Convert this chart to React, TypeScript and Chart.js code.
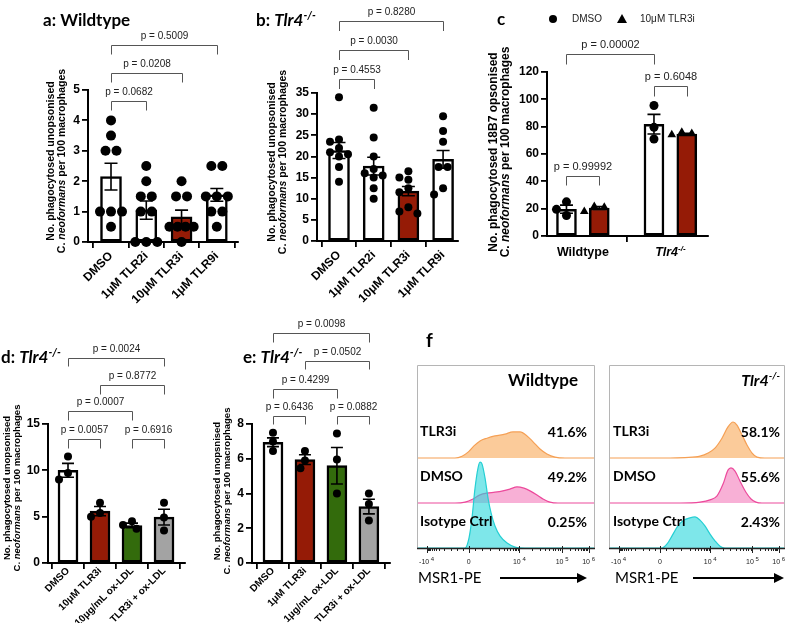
import React, { useEffect, useRef } from 'react';
import { Chart, registerables } from 'chart.js';

Chart.register(...registerables);

const W = 788;
const H = 635;
const SANS = '"Liberation Sans", Arial, sans-serif';
const LATO = 'Lato, "Open Sans", sans-serif';
const RED = '#951b06';
const GREEN = '#336b0c';
const GREY = '#a3a3a3';
const WHITE = '#ffffff';

// ---------------- data: panel a (Wildtype) ----------------
const aCategories = ['DMSO', '1μM TLR2i', '10μM TLR3i', '1μM TLR9i'];
const aMeans = [2.15, 1.05, 0.83, 1.55];
const aSems = [0.44, 0.3, 0.22, 0.21];
const aPoints = [
  [4, 3.5, 3, 3, 1, 1, 1, 0.5],
  [2.5, 2, 1.5, 1.5, 1, 1, 0, 0, 0],
  [2, 1.5, 1.5, 0.5, 0.5, 0.5, 0.5, 0],
  [2.5, 2.5, 1.5, 1.5, 1.5, 1, 1, 0.5],
];
const aPValues = ['p = 0.0682', 'p = 0.0208', 'p = 0.5009'];

// ---------------- data: panel b (Tlr4-/-) ----------------
const bCategories = ['DMSO', '1μM TLR2i', '10μM TLR3i', '1μM TLR9i'];
const bMeans = [21.4, 17.7, 11.8, 19.3];
const bSems = [1.9, 2.1, 1.1, 2.1];
const bPoints = [
  [34, 24, 23.5, 22, 21, 20.5, 20, 17.5, 14],
  [31.5, 24.5, 20, 17, 16, 15.5, 15, 12.5, 10],
  [16.5, 15, 14.5, 12.5, 11.5, 8, 7, 6.5],
  [29.5, 26, 23.5, 17.5, 17.5, 12.5, 11],
];
const bPValues = ['p = 0.4553', 'p = 0.0030', 'p = 0.8280'];

// ---------------- data: panel c (18B7 opsonised) ----------------
const cGroups = ['Wildtype', 'Tlr4'];
const cSeries = ['DMSO', '10μM TLR3i'];
const cDmsoMeans = [19.6, 81.8];
const cDmsoSems = [3.0, 7.2];
const cTlr3iMeans = [20.5, 74.6];
const cTlr3iSems = [1.0, 0.6];
const cDmsoPoints = [[25, 19.5, 15], [95.5, 79.5, 71]];
const cTlr3iPoints = [[21.5, 21, 18], [76, 75, 74]];
const cPValues = ['p = 0.99992', 'p = 0.6048', 'p = 0.00002'];

// ---------------- data: panel d ----------------
const dCategories = ['DMSO', '10μM TLR3i', '10μg/mL ox-LDL', 'TLR3i + ox-LDL'];
const dMeans = [10.0, 5.6, 4.05, 4.95];
const dSems = [0.75, 0.5, 0.25, 0.85];
const dPoints = [[11.5, 9.7, 9.0], [6.5, 5.4, 5.0], [4.5, 4.1, 3.7], [6.5, 4.9, 3.5]];
const dPValues = ['p = 0.0057', 'p = 0.6916', 'p = 0.0007', 'p = 0.8772', 'p = 0.0024'];

// ---------------- data: panel e ----------------
const eCategories = ['DMSO', '1μM TLR3i', '1μg/mL ox-LDL', 'TLR3i + ox-LDL'];
const eMeans = [6.95, 5.95, 5.6, 3.25];
const eSems = [0.25, 0.28, 1.05, 0.42];
const ePoints = [[7.5, 7.0, 6.45], [6.45, 5.9, 5.45], [7.45, 5.95, 4.0], [4.0, 3.4, 2.45]];
const ePValues = ['p = 0.6436', 'p = 0.0882', 'p = 0.4299', 'p = 0.0502', 'p = 0.0098'];

// ---------------- data: panel f (flow histograms, axis display units 0-100, height in row units) ----------------
const fRows = ['TLR3i', 'DMSO', 'Isotype Ctrl'];
const fWtPercent = ['41.6%', '49.2%', '0.25%'];
const fKoPercent = ['58.1%', '55.6%', '2.43%'];
const fTickPos = [5.4, 29, 57.5, 81.5, 96.4];
const fTickMain = ['-10', '0', '10', '10', '10'];
const fTickExp = ['4', '', '4', '5', '6'];
const fWtTlr3i = [[21.3, 0], [25.3, 0.04], [28.7, 0.13], [32, 0.27], [35.4, 0.38], [39.3, 0.44], [43.8, 0.49], [49.4, 0.53], [53.9, 0.58], [57.9, 0.58], [61.8, 0.49], [65.2, 0.36], [69.1, 0.2], [73, 0.09], [77.5, 0.02], [83.1, 0]];
const fWtDmso = [[21.3, 0], [27, 0.02], [31.5, 0.09], [35.4, 0.18], [39.3, 0.22], [43.8, 0.24], [48.3, 0.27], [52.2, 0.31], [56.2, 0.36], [60.1, 0.33], [63.5, 0.27], [67.4, 0.18], [70.8, 0.09], [74.7, 0.02], [79.2, 0]];
const fWtIso = [[27, 0], [29.2, 0.22], [30.9, 0.67], [32.6, 1.33], [34.3, 1.78], [35.4, 1.91], [36.5, 1.87], [38.2, 1.56], [39.9, 1.11], [41.6, 0.78], [43.8, 0.49], [46.6, 0.27], [50.6, 0.11], [55.1, 0.02], [60.7, 0]];
const fKoTlr3i = [[34.7, 0], [43.2, 0.01], [51.7, 0.04], [56.3, 0.11], [60.2, 0.22], [64.2, 0.44], [67.6, 0.69], [70.5, 0.8], [72.7, 0.73], [75.6, 0.51], [78.4, 0.29], [81.3, 0.11], [84.1, 0.02], [88.6, 0]];
const fKoDmso = [[40.3, 0], [51.7, 0.02], [57.4, 0.07], [61.4, 0.16], [64.8, 0.42], [67.6, 0.73], [69.3, 0.78], [71.6, 0.71], [74.4, 0.49], [77.8, 0.24], [80.7, 0.09], [83.5, 0.02], [86.9, 0]];
const fKoIso = [[30.1, 0], [33, 0.09], [35.8, 0.27], [39.2, 0.49], [42.6, 0.62], [46, 0.67], [48.9, 0.69], [51.7, 0.62], [54.5, 0.49], [57.4, 0.31], [60.2, 0.16], [63.1, 0.04], [65.9, 0]];

// ---------------- helpers ----------------
type Seg = { t: string; f: string; dy?: number };

function drawRich(ctx: any, segs: Seg[], x: number, y: number, align: string, rot = 0, color = '#000') {
  ctx.save();
  ctx.translate(x, y);
  if (rot) ctx.rotate(rot);
  let total = 0;
  const widths = segs.map((s) => {
    ctx.font = s.f;
    const w = ctx.measureText(s.t).width;
    total += w;
    return w;
  });
  let cx = align === 'left' ? 0 : align === 'center' ? -total / 2 : -total;
  ctx.textAlign = 'left';
  ctx.textBaseline = 'middle';
  ctx.fillStyle = color;
  segs.forEach((s, i) => {
    ctx.font = s.f;
    ctx.fillText(s.t, cx, s.dy || 0);
    cx += widths[i];
  });
  ctx.restore();
}

const tlr4Segs = (size: number, family: string, lead: Seg[] = []): Seg[] => [
  ...lead,
  { t: 'Tlr4', f: `italic bold ${size}px ${family}` },
  { t: '-/-', f: `italic bold ${Math.round(size * 0.62)}px ${family}`, dy: -size * 0.33 },
];

const yLabelSegs = (line1: string, size: number): Seg[][] => [
  [{ t: line1, f: `bold ${size}px ${SANS}` }],
  [
    { t: 'C. ', f: `bold ${size}px ${SANS}` },
    { t: 'neoformans', f: `italic bold ${size}px ${SANS}` },
    { t: ' per 100 macrophages', f: `bold ${size}px ${SANS}` },
  ],
];

// bee-swarm style horizontal spreading of points (pixel based)
function swarm(values: number[], cx: number, pxX: number, pxY: number, d: number) {
  const idx = values.map((_, i) => i).sort((a, b) => values[b] - values[a]);
  const placed: { x: number; y: number }[] = [];
  const out: any[] = new Array(values.length);
  let i = 0;
  while (i < idx.length) {
    let j = i;
    while (j + 1 < idx.length && Math.abs(values[idx[j + 1]] - values[idx[i]]) * pxY < 1.5) j++;
    const n = j - i + 1;
    const gap = n > 1 ? Math.min(d, (2.2 * d) / (n - 1)) : 0;
    const base = Array.from({ length: n }, (_, k) => (k - (n - 1) / 2) * gap);
    const ys = Array.from({ length: n }, (_, k) => values[idx[i + k]] * pxY);
    let shift = 0;
    for (const c of [0, -0.5, 0.5, -1, 1, -1.5, 1.5, -2, 2]) {
      const ok = base.every((bx, k) => placed.every((p) => Math.hypot(bx + c * d - p.x, ys[k] - p.y) >= d * 0.92));
      if (ok) {
        shift = c * d;
        break;
      }
    }
    base.forEach((bx, k) => {
      placed.push({ x: bx + shift, y: ys[k] });
      out[idx[i + k]] = { x: cx + (bx + shift) / pxX, y: values[idx[i + k]] };
    });
    i = j + 1;
  }
  return out;
}

// ---------------- bar panel builder ----------------
function buildBar(canvas: HTMLCanvasElement, p: any) {
  const pxX = (p.area.r - p.area.l) / (p.xMax - p.xMin);
  const pxY = (p.area.b - p.area.t) / p.yMax;
  const datasets: any[] = [
    {
      type: 'bar',
      data: p.barX.map((x: number, i: number) => ({ x, y: p.means[i] })),
      backgroundColor: p.colors,
      borderColor: '#000',
      borderWidth: 2.5,
      borderSkipped: false,
      barThickness: p.barW,
      order: 1,
    },
  ];
  p.groups.forEach((g: any) =>
    datasets.push({
      type: 'scatter',
      data: swarm(g.values, g.x, pxX, pxY, p.dotR * 2 + 1),
      pointStyle: g.style,
      pointRadius: g.style === 'triangle' ? p.dotR + 0.5 : p.dotR,
      backgroundColor: '#000',
      borderColor: '#000',
      borderWidth: 0,
      clip: false,
      order: 0,
    })
  );
  const tickFont = { family: SANS, size: 12, weight: 'bold' };
  const xTickFont = { family: SANS, size: p.xFont, weight: 'bold' };
  const plugin = {
    id: 'barPanel',
    afterDatasetDraw(chart: any, args: any) {
      if (args.index !== 0) return;
      const ctx = chart.ctx;
      const xs = chart.scales.x;
      const ys = chart.scales.y;
      ctx.save();
      ctx.strokeStyle = '#000';
      ctx.lineWidth = 1.6;
      p.barX.forEach((bx: number, i: number) => {
        const x = xs.getPixelForValue(bx);
        const y1 = ys.getPixelForValue(p.means[i] + p.sems[i]);
        const y2 = ys.getPixelForValue(Math.max(0, p.means[i] - p.sems[i]));
        ctx.beginPath();
        ctx.moveTo(x, y1);
        ctx.lineTo(x, y2);
        ctx.moveTo(x - p.cap, y1);
        ctx.lineTo(x + p.cap, y1);
        ctx.moveTo(x - p.cap, y2);
        ctx.lineTo(x + p.cap, y2);
        ctx.stroke();
      });
      ctx.restore();
    },
    afterDraw(chart: any) {
      const ctx = chart.ctx;
      const xs = chart.scales.x;
      ctx.save();
      ctx.strokeStyle = '#555';
      ctx.lineWidth = 1;
      p.brackets.forEach((b: any) => {
        const x1 = Math.round(xs.getPixelForValue(b.from)) + 0.5;
        const x2 = Math.round(xs.getPixelForValue(b.to)) + 0.5;
        const y = Math.round(b.y) + 0.5;
        ctx.beginPath();
        ctx.moveTo(x1, y + b.drop);
        ctx.lineTo(x1, y);
        ctx.lineTo(x2, y);
        ctx.lineTo(x2, y + b.drop);
        ctx.stroke();
        drawRich(ctx, [{ t: b.text, f: p.pFont }], (x1 + x2) / 2, y - p.pGap, 'center', 0, '#222');
      });
      ctx.restore();
      drawRich(ctx, p.title, p.titleX, p.titleY, 'left');
      p.yLabel.forEach((segs: Seg[], k: number) => drawRich(ctx, segs, p.yLabelX[k], p.yLabelY, 'center', -Math.PI / 2));
      if (p.extra) p.extra(ctx, chart);
    },
  };
  return new Chart(canvas, {
    type: 'bar',
    data: { datasets },
    options: {
      responsive: false,
      animation: false,
      devicePixelRatio: 1,
      events: [],
      layout: {
        autoPadding: false,
        padding: { left: p.area.l - p.yAxisW, right: W - p.area.r, top: p.area.t, bottom: H - p.area.b - p.xAxisH },
      },
      plugins: { legend: { display: false }, tooltip: { enabled: false } },
      scales: {
        x: {
          type: 'linear',
          min: p.xMin,
          max: p.xMax,
          offset: false,
          afterBuildTicks: (s: any) => {
            s.ticks = p.tickX.map((v: number) => ({ value: v }));
          },
          afterFit: (s: any) => {
            s.height = p.xAxisH;
            s.paddingLeft = 0;
            s.paddingRight = 0;
          },
          ticks: {
            autoSkip: false,
            maxRotation: p.rot,
            minRotation: p.rot,
            padding: p.xPad,
            color: '#000',
            font: xTickFont,
            callback: (_v: any, i: number) => p.tickLabels[i],
          },
          grid: { display: true, drawOnChartArea: false, drawTicks: true, tickLength: 6, color: '#000', lineWidth: 1.8 },
          border: { display: true, color: '#000', width: 2 },
        },
        y: {
          type: 'linear',
          min: 0,
          max: p.yMax,
          afterFit: (s: any) => {
            s.width = p.yAxisW;
            s.paddingTop = 0;
            s.paddingBottom = 0;
          },
          ticks: { stepSize: p.yStep, padding: 2, color: '#000', font: tickFont },
          grid: { display: true, drawOnChartArea: false, drawTicks: true, tickLength: 6, color: '#000', lineWidth: 1.8 },
          border: { display: true, color: '#000', width: 2 },
        },
      },
    } as any,
    plugins: [plugin],
  } as any);
}

// ---------------- histogram panel builder ----------------
function minorTicks(): number[] {
  const out: number[] = [];
  const [neg, zero, d4, d5, d6] = fTickPos;
  const lin = (k: number) => Math.asinh((k * 1000) / 400) / Math.asinh(10000 / 400);
  [0.2, 0.5, 1, 2, 3, 4, 5, 6, 7, 8, 9].forEach((k) => {
    out.push(zero + (d4 - zero) * lin(k));
    out.push(zero - (zero - neg) * lin(k));
  });
  for (let k = 2; k <= 9; k++) {
    out.push(d4 + (d5 - d4) * Math.log10(k));
    out.push(d5 + (d6 - d5) * Math.log10(k));
  }
  return out;
}

function buildHist(canvas: HTMLCanvasElement, p: any) {
  const rowH = 45;
  const yMax = (p.box.b - p.box.t) / rowH;
  const rows = [
    { pts: p.tlr3i, base: 2, line: '#f5a055', fill: 'rgba(250, 185, 120, 0.75)', order: 2 },
    { pts: p.dmso, base: 1, line: '#ec4a9c', fill: 'rgba(245, 150, 200, 0.75)', order: 1 },
    { pts: p.iso, base: 0, line: '#25cfd3', fill: 'rgba(40, 215, 220, 0.6)', order: 0 },
  ];
  const datasets = rows.map((r) => ({
    type: 'line',
    data: [{ x: 0, y: r.base }, ...r.pts.map((q: number[]) => ({ x: q[0], y: r.base + q[1] })), { x: 100, y: r.base }],
    borderColor: r.line,
    backgroundColor: r.fill,
    borderWidth: 1.2,
    pointRadius: 0,
    fill: { value: r.base },
    cubicInterpolationMode: 'monotone',
    order: r.order,
  }));
  const minors = minorTicks();
  const plugin = {
    id: 'histPanel',
    afterDraw(chart: any) {
      const ctx = chart.ctx;
      const xs = chart.scales.x;
      const ys = chart.scales.y;
      const { l, r, t, b } = p.box;
      ctx.save();
      ctx.strokeStyle = '#b5b5b5';
      ctx.lineWidth = 1;
      ctx.beginPath();
      ctx.moveTo(l + 0.5, b);
      ctx.lineTo(l + 0.5, t + 0.5);
      ctx.lineTo(r - 0.5, t + 0.5);
      ctx.lineTo(r - 0.5, b);
      ctx.stroke();
      ctx.strokeStyle = '#222';
      ctx.lineWidth = 1.3;
      ctx.beginPath();
      ctx.moveTo(l, b + 0.5);
      ctx.lineTo(r, b + 0.5);
      ctx.stroke();
      ctx.lineWidth = 1;
      ctx.beginPath();
      fTickPos.forEach((v) => {
        const x = Math.round(xs.getPixelForValue(v)) + 0.5;
        ctx.moveTo(x, b - 2);
        ctx.lineTo(x, b + 5);
      });
      minors.forEach((v) => {
        const x = Math.round(xs.getPixelForValue(v)) + 0.5;
        ctx.moveTo(x, b);
        ctx.lineTo(x, b + 3);
      });
      ctx.stroke();
      ctx.restore();
      fTickPos.forEach((v, i) => {
        const segs: Seg[] = [{ t: fTickMain[i], f: `7px ${SANS}` }];
        if (fTickExp[i]) segs.push({ t: ' ' + fTickExp[i], f: `6px ${SANS}`, dy: -3 });
        drawRich(ctx, segs, xs.getPixelForValue(v), b + 14, 'center', 0, '#222');
      });
      drawRich(ctx, p.title, p.titleX, 381, p.titleAlign);
      fRows.forEach((name, i) => {
        const basePx = ys.getPixelForValue(2 - i);
        drawRich(ctx, [{ t: name, f: `bold 14px ${LATO}` }], l + p.labelDx, basePx - 27, 'left');
        drawRich(ctx, [{ t: p.percent[i], f: `bold 14px ${LATO}` }], p.percentX, basePx - 26, 'right');
      });
      drawRich(ctx, [{ t: 'MSR1-PE', f: `15px ${LATO}` }], p.msrX, 578, 'left');
      ctx.save();
      ctx.strokeStyle = '#000';
      ctx.fillStyle = '#000';
      ctx.lineWidth = 2.2;
      ctx.beginPath();
      ctx.moveTo(p.arrow[0], 578);
      ctx.lineTo(p.arrow[1] - 8, 578);
      ctx.stroke();
      ctx.beginPath();
      ctx.moveTo(p.arrow[1], 578);
      ctx.lineTo(p.arrow[1] - 10, 573);
      ctx.lineTo(p.arrow[1] - 10, 583);
      ctx.closePath();
      ctx.fill();
      ctx.restore();
      if (p.extra) p.extra(ctx);
    },
  };
  return new Chart(canvas, {
    type: 'line',
    data: { datasets },
    options: {
      responsive: false,
      animation: false,
      devicePixelRatio: 1,
      events: [],
      layout: { autoPadding: false, padding: { left: p.box.l, right: W - p.box.r, top: p.box.t, bottom: H - p.box.b } },
      plugins: { legend: { display: false }, tooltip: { enabled: false } },
      scales: {
        x: { type: 'linear', min: 0, max: 100, display: false },
        y: { type: 'linear', min: 0, max: yMax, display: false },
      },
    } as any,
    plugins: [plugin],
  } as any);
}

// ---------------- panel layouts ----------------
const titleFont = (s: number, it = false) => `${it ? 'italic ' : ''}bold ${s}px ${LATO}`;

const panelA = {
  area: { l: 88, r: 238, t: 90, b: 242 },
  xMin: -0.652, xMax: 3.6, yMax: 5, yStep: 1, rot: 45, xFont: 12, xPad: 1,
  barX: [0, 1, 2, 3], means: aMeans, sems: aSems, colors: [WHITE, WHITE, RED, WHITE],
  groups: aPoints.map((v, i) => ({ x: i, values: v, style: 'circle' })),
  tickX: [0, 1, 2, 3], tickLabels: aCategories,
  barW: 21, dotR: 5, cap: 6.5, xAxisH: 70, yAxisW: 40,
  pFont: `10px ${SANS}`, pGap: 9,
  brackets: [
    { from: 0, to: 1, text: aPValues[0], y: 101, drop: 9 },
    { from: 0, to: 2, text: aPValues[1], y: 73, drop: 9 },
    { from: 0, to: 3, text: aPValues[2], y: 45, drop: 9 },
  ],
  title: [{ t: 'a: Wildtype', f: titleFont(17) }], titleX: 43, titleY: 21,
  yLabel: yLabelSegs('No. phagocytosed unopsonised', 10.5), yLabelX: [51, 62], yLabelY: 161,
};

const panelB = {
  area: { l: 317, r: 458, t: 93, b: 241 },
  xMin: -0.634, xMax: 3.43, yMax: 35, yStep: 5, rot: 45, xFont: 12, xPad: 1,
  barX: [0, 1, 2, 3], means: bMeans, sems: bSems, colors: [WHITE, WHITE, RED, WHITE],
  groups: bPoints.map((v, i) => ({ x: i, values: v, style: 'circle' })),
  tickX: [0, 1, 2, 3], tickLabels: bCategories,
  barW: 21, dotR: 4, cap: 6.5, xAxisH: 70, yAxisW: 40,
  pFont: `10px ${SANS}`, pGap: 9,
  brackets: [
    { from: 0, to: 1, text: bPValues[0], y: 79, drop: 9.5 },
    { from: 0, to: 2, text: bPValues[1], y: 50, drop: 9.5 },
    { from: 0, to: 3, text: bPValues[2], y: 21, drop: 9.5 },
  ],
  title: tlr4Segs(17, LATO, [{ t: 'b: ', f: titleFont(17) }]), titleX: 256, titleY: 21,
  yLabel: yLabelSegs('No. phagocytosed unopsonised', 10.5), yLabelX: [272, 283], yLabelY: 162,
};

const cOff = 0.1875;
const panelC = {
  area: { l: 547, r: 708, t: 72, b: 236 },
  xMin: -0.41, xMax: 1.43, yMax: 120, yStep: 20, rot: 0, xFont: 12, xPad: 1,
  barX: [-cOff, cOff, 1 - cOff, 1 + cOff],
  means: [cDmsoMeans[0], cTlr3iMeans[0], cDmsoMeans[1], cTlr3iMeans[1]],
  sems: [cDmsoSems[0], cTlr3iSems[0], cDmsoSems[1], cTlr3iSems[1]],
  colors: [WHITE, RED, WHITE, RED],
  groups: [
    { x: -cOff, values: cDmsoPoints[0], style: 'circle' },
    { x: cOff, values: cTlr3iPoints[0], style: 'triangle' },
    { x: 1 - cOff, values: cDmsoPoints[1], style: 'circle' },
    { x: 1 + cOff, values: cTlr3iPoints[1], style: 'triangle' },
  ],
  tickX: [0, 1], tickLabels: ['', ''],
  barW: 20, dotR: 4.5, cap: 6.5, xAxisH: 30, yAxisW: 40,
  pFont: `11px ${SANS}`, pGap: 10,
  brackets: [
    { from: -cOff, to: cOff, text: cPValues[0], y: 176, drop: 9 },
    { from: 1 - cOff, to: 1 + cOff, text: cPValues[1], y: 86, drop: 10 },
    { from: -cOff, to: 1 - cOff, text: cPValues[2], y: 54, drop: 10 },
  ],
  title: [{ t: 'c', f: titleFont(17) }], titleX: 497, titleY: 20,
  yLabel: [
    [{ t: 'No. phagocytosed 18B7 opsonised', f: `bold 12px ${SANS}` }],
    yLabelSegs('', 12)[1],
  ],
  yLabelX: [494, 506], yLabelY: 152,
  extra: (ctx: any, chart: any) => {
    const xs = chart.scales.x;
    drawRich(ctx, [{ t: cGroups[0], f: `bold 12.5px ${SANS}` }], xs.getPixelForValue(0), 253, 'center');
    drawRich(ctx, tlr4Segs(12.5, SANS), xs.getPixelForValue(1), 253, 'center');
    // legend
    ctx.save();
    ctx.fillStyle = '#000';
    ctx.beginPath();
    ctx.arc(553, 19, 4, 0, Math.PI * 2);
    ctx.fill();
    ctx.beginPath();
    ctx.moveTo(622, 14);
    ctx.lineTo(627, 23);
    ctx.lineTo(617, 23);
    ctx.closePath();
    ctx.fill();
    ctx.restore();
    drawRich(ctx, [{ t: cSeries[0], f: `10px ${SANS}` }], 572, 19, 'left', 0, '#222');
    drawRich(ctx, [{ t: cSeries[1], f: `10px ${SANS}` }], 640, 19, 'left', 0, '#222');
  },
};

const panelD = {
  area: { l: 48, r: 185, t: 424, b: 563 },
  xMin: -0.625, xMax: 3.656, yMax: 15, yStep: 5, rot: 45, xFont: 10, xPad: -4,
  barX: [0, 1, 2, 3], means: dMeans, sems: dSems, colors: [WHITE, RED, GREEN, GREY],
  groups: dPoints.map((v, i) => ({ x: i, values: v, style: 'circle' })),
  tickX: [0, 1, 2, 3], tickLabels: dCategories,
  barW: 20, dotR: 4, cap: 6, xAxisH: 60, yAxisW: 30,
  pFont: `10px ${SANS}`, pGap: 9,
  brackets: [
    { from: 0, to: 1, text: dPValues[0], y: 439, drop: 9 },
    { from: 2, to: 3, text: dPValues[1], y: 439, drop: 9 },
    { from: 0, to: 2, text: dPValues[2], y: 411, drop: 9 },
    { from: 1, to: 3, text: dPValues[3], y: 385, drop: 9 },
    { from: 0, to: 3, text: dPValues[4], y: 358, drop: 8 },
  ],
  title: tlr4Segs(17, LATO, [{ t: 'd: ', f: titleFont(17) }]), titleX: 1, titleY: 358,
  yLabel: yLabelSegs('No. phagocytosed unopsonised', 9.5), yLabelX: [7.5, 17.5], yLabelY: 488,
};

const panelE = {
  area: { l: 252, r: 390, t: 424, b: 563 },
  xMin: -0.656, xMax: 3.66, yMax: 8, yStep: 2, rot: 45, xFont: 10, xPad: -4,
  barX: [0, 1, 2, 3], means: eMeans, sems: eSems, colors: [WHITE, RED, GREEN, GREY],
  groups: ePoints.map((v, i) => ({ x: i, values: v, style: 'circle' })),
  tickX: [0, 1, 2, 3], tickLabels: eCategories,
  barW: 20, dotR: 4, cap: 6, xAxisH: 60, yAxisW: 30,
  pFont: `10px ${SANS}`, pGap: 9,
  brackets: [
    { from: 0, to: 1, text: ePValues[0], y: 416, drop: 8 },
    { from: 2, to: 3, text: ePValues[1], y: 416, drop: 8 },
    { from: 0, to: 2, text: ePValues[2], y: 389, drop: 9 },
    { from: 1, to: 3, text: ePValues[3], y: 361, drop: 8 },
    { from: 0, to: 3, text: ePValues[4], y: 333, drop: 9 },
  ],
  title: tlr4Segs(17, LATO, [{ t: 'e: ', f: titleFont(17) }]), titleX: 243, titleY: 358,
  yLabel: yLabelSegs('No. phagocytosed unopsnised', 9.5), yLabelX: [217, 227], yLabelY: 491,
};

const panelFWt = {
  box: { l: 417, r: 595, t: 365, b: 548 },
  tlr3i: fWtTlr3i, dmso: fWtDmso, iso: fWtIso, percent: fWtPercent,
  title: [{ t: 'Wildtype', f: titleFont(17) }], titleX: 543, titleAlign: 'center',
  labelDx: 3, percentX: 587, msrX: 418, arrow: [500, 587],
  extra: (ctx: any) => drawRich(ctx, [{ t: 'f', f: titleFont(19) }], 426, 341, 'left'),
};

const panelFKo = {
  box: { l: 609, r: 785, t: 365, b: 548 },
  tlr3i: fKoTlr3i, dmso: fKoDmso, iso: fKoIso, percent: fKoPercent,
  title: tlr4Segs(16, LATO), titleX: 780, titleAlign: 'right',
  labelDx: 4, percentX: 780, msrX: 615, arrow: [693, 784],
};

// ---------------- React ----------------
function ChartCanvas({ build }: { build: (c: HTMLCanvasElement) => Chart }) {
  const ref = useRef<HTMLCanvasElement>(null);
  useEffect(() => {
    const chart = build(ref.current as HTMLCanvasElement);
    return () => chart.destroy();
  }, []);
  return <canvas ref={ref} width={W} height={H} style={{ position: 'absolute', left: 0, top: 0, width: W, height: H }} />;
}

export default function App() {
  return (
    <div style={{ position: 'fixed', left: 0, top: 0, width: W, height: H, background: '#fff', overflow: 'hidden' }}>
      <ChartCanvas build={(c) => buildBar(c, panelA)} />
      <ChartCanvas build={(c) => buildBar(c, panelB)} />
      <ChartCanvas build={(c) => buildBar(c, panelC)} />
      <ChartCanvas build={(c) => buildBar(c, panelD)} />
      <ChartCanvas build={(c) => buildBar(c, panelE)} />
      <ChartCanvas build={(c) => buildHist(c, panelFWt)} />
      <ChartCanvas build={(c) => buildHist(c, panelFKo)} />
    </div>
  );
}
